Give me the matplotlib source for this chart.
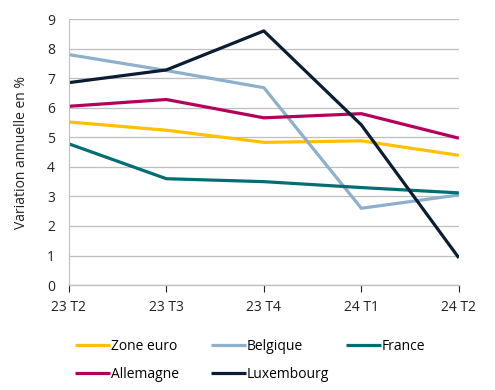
import matplotlib.pyplot as plt
import numpy as np

plt.rcParams['font.family'] = ['Open Sans', 'DejaVu Sans']

quarters = ["23 T2", "23 T3", "23 T4", "24 T1", "24 T2"]
zone_euro = [5.52, 5.24, 4.83, 4.88, 4.39]
belgique = [7.8, 7.26, 6.68, 2.6, 3.05]
france = [4.78, 3.6, 3.5, 3.3, 3.12]
allemagne = [6.05, 6.28, 5.66, 5.8, 4.97]
luxembourg = [6.85, 7.28, 8.6, 5.42, 0.92]

series = [
    ("Zone euro", zone_euro, "#FFC000"),
    ("Belgique", belgique, "#8DB0CC"),
    ("France", france, "#006E72"),
    ("Allemagne", allemagne, "#B5005B"),
    ("Luxembourg", luxembourg, "#0B1D33"),
]

fig = plt.figure(figsize=(4.95, 3.9), dpi=100)
ax = fig.add_axes([0.139, 0.269, 0.788, 0.682])

x = np.arange(len(quarters))
lines = {}
for name, vals, col in series:
    lines[name], = ax.plot(x, vals, color=col, lw=2.3, label=name, solid_capstyle='butt')

ax.set_xlim(0, len(quarters) - 1)
ax.set_ylim(0, 9)
ax.set_yticks(range(0, 10))
ax.set_xticks(x)
ax.set_xticklabels(quarters)
ax.grid(axis='y', color='#BFBFBF', lw=0.9)
ax.set_axisbelow(True)
for s in ['top', 'right']:
    ax.spines[s].set_visible(False)
ax.spines['left'].set_color('#BFBFBF')
ax.spines['bottom'].set_color('#BFBFBF')
ax.spines['bottom'].set_linewidth(1.0)
fs = 10
ax.tick_params(axis='y', length=0, labelsize=fs, pad=10, colors='#222222')
ax.tick_params(axis='x', length=5, color='#222222', labelsize=fs, pad=6, colors='#222222')
ax.set_ylabel("Variation annuelle en %", fontsize=fs, color='#222222', labelpad=13)

# legend in fixed-width columns, like the original
columns = [["Zone euro", "Allemagne"], ["Belgique", "Luxembourg"], ["France"]]
col_x = [0.14, 0.14 + 136 / 495, 0.14 + 271 / 495]
for names, cx in zip(columns, col_x):
    leg = fig.legend([lines[n] for n in names], names, ncol=1, frameon=False,
                     loc='upper left', bbox_to_anchor=(cx, 0.146), fontsize=fs,
                     handlelength=2.5, handletextpad=0.1,
                     labelspacing=0.95, borderaxespad=0)

fig.savefig("out.png", dpi=100)
